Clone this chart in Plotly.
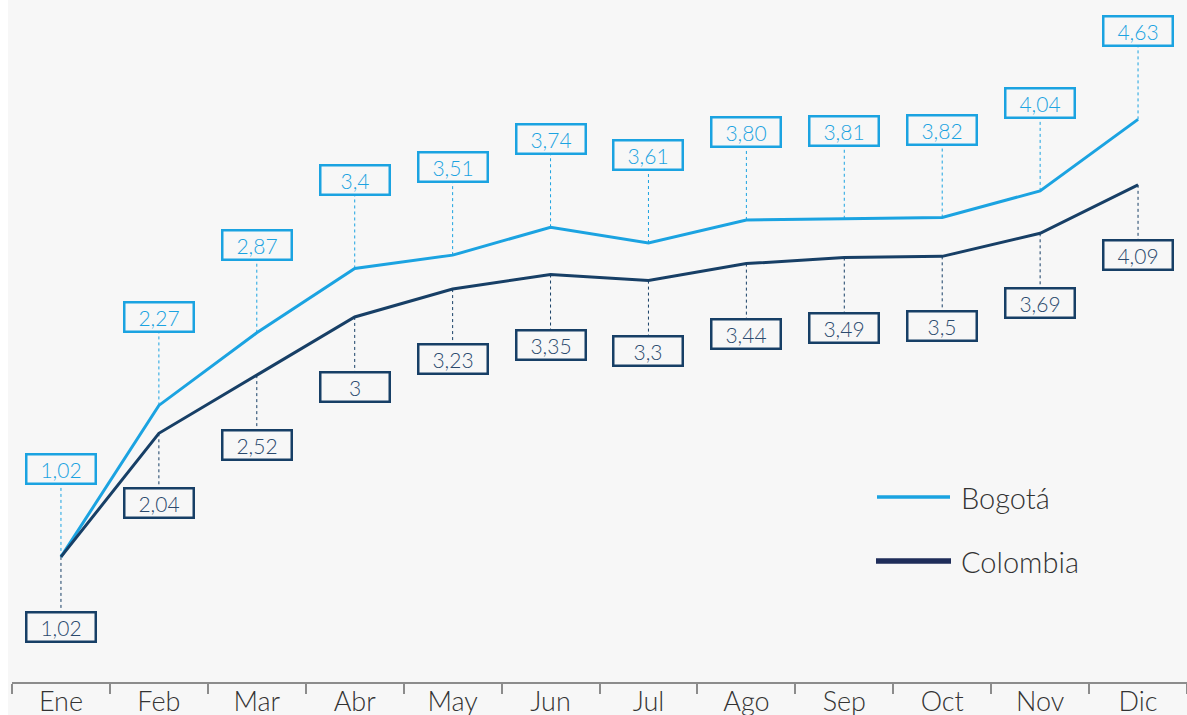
import plotly.graph_objects as go

months = ["Ene", "Feb", "Mar", "Abr", "May", "Jun", "Jul", "Ago", "Sep", "Oct", "Nov", "Dic"]
bogota = [1.02, 2.27, 2.87, 3.40, 3.51, 3.74, 3.61, 3.80, 3.81, 3.82, 4.04, 4.63]
colombia = [1.02, 2.04, 2.52, 3.00, 3.23, 3.35, 3.30, 3.44, 3.49, 3.50, 3.69, 4.09]
bogota_labels = ["1,02", "2,27", "2,87", "3,4", "3,51", "3,74", "3,61", "3,80", "3,81", "3,82", "4,04", "4,63"]
colombia_labels = ["1,02", "2,04", "2,52", "3", "3,23", "3,35", "3,3", "3,44", "3,49", "3,5", "3,69", "4,09"]

BLUE = "#1ba3e1"
NAVY = "#173f66"
NAVY_LEG = "#1f2d5a"
BG = "#f7f7f7"
FONT = "Lato Light, Lato"

OFFX = 8                      # page body left margin
W, H = 1187 - OFFX, 715
ML, MB = 4, 33
PW, PH = W - ML, H - MB

fig = go.Figure()
fig.add_trace(go.Scatter(x=months, y=bogota, mode="lines", name="Bogotá",
                         line=dict(color=BLUE, width=3), showlegend=False))
fig.add_trace(go.Scatter(x=months, y=colombia, mode="lines", name="Colombia",
                         line=dict(color=NAVY, width=3), showlegend=False))

shapes = []
annotations = []
UP, DOWN = 88, 70
for m, v, t in zip(months, bogota, bogota_labels):
    shapes.append(dict(type="line", xref="x", yref="y", x0=m, x1=m, ysizemode="pixel",
                       yanchor=v, y0=0, y1=UP - 14, layer="below",
                       line=dict(color=BLUE, width=1, dash="dot")))
    annotations.append(dict(x=m, y=v, xref="x", yref="y", text=t, showarrow=False,
                            yshift=UP, width=65, height=25, borderpad=1, borderwidth=2.5,
                            bordercolor=BLUE, bgcolor=BG,
                            font=dict(family=FONT, size=21, color=BLUE, weight=300)))
for m, v, t in zip(months, colombia, colombia_labels):
    shapes.append(dict(type="line", xref="x", yref="y", x0=m, x1=m, ysizemode="pixel",
                       yanchor=v, y0=0, y1=-(DOWN - 14), layer="below",
                       line=dict(color=NAVY, width=1, dash="dot")))
    annotations.append(dict(x=m, y=v, xref="x", yref="y", text=t, showarrow=False,
                            yshift=-DOWN, width=65, height=25, borderpad=1, borderwidth=2.5,
                            bordercolor=NAVY, bgcolor=BG,
                            font=dict(family=FONT, size=21, color="#2b4a6e", weight=300)))

# manual legend (page pixel positions converted to paper fractions)
def px(x):
    return (x - OFFX - ML) / PW

def py(y):
    return (PH - y) / PH

legend_items = [("Bogotá", BLUE, 3.5, 497, 877, 950), ("Colombia", NAVY_LEG, 5.5, 561, 876, 951)]
for name, col, lw, yy, x0, x1 in legend_items:
    shapes.append(dict(type="line", xref="paper", yref="paper", x0=px(x0), x1=px(x1),
                       y0=py(yy), y1=py(yy), line=dict(color=col, width=lw)))
    annotations.append(dict(x=px(959), y=py(yy), xref="paper", yref="paper", text=name,
                            showarrow=False, xanchor="left", yanchor="middle",
                            font=dict(family=FONT, size=29, color="#333333", weight=300)))

fig.update_layout(
    width=W, height=H,
    margin=dict(l=ML, r=0, t=0, b=MB, autoexpand=False),
    paper_bgcolor=BG, plot_bgcolor=BG,
    shapes=shapes, annotations=annotations,
    xaxis=dict(type="category", range=[-0.5, 11.5], tickson="boundaries", ticks="outside",
               ticklen=10, tickwidth=2, tickcolor="#8c8c8c", showline=True, linewidth=2,
               linecolor="#8c8c8c", showgrid=False, zeroline=False, ticklabelstandoff=-5,
               automargin=False,
               tickfont=dict(family=FONT, size=27, color="#333333", weight=300)),
    yaxis=dict(range=[-0.012, 5.615], visible=False, showgrid=False, zeroline=False),
)
fig.write_html("out.html",
               post_script="document.body.style.margin='0 0 0 %dpx';document.body.style.overflow='hidden';" % OFFX)
